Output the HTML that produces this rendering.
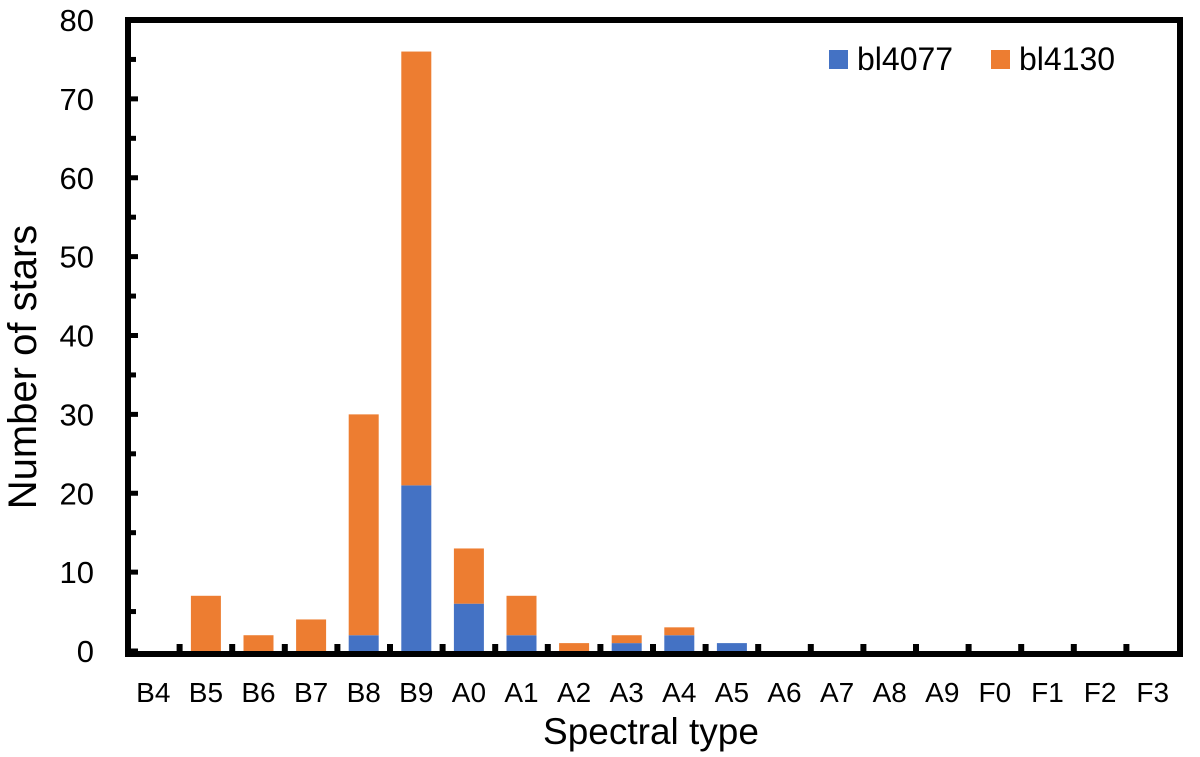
<!DOCTYPE html>
<html><head><meta charset="utf-8"><style>
body{margin:0;background:#fff;}
svg text{font-family:"Liberation Sans",sans-serif;fill:#000;}
</style></head><body>
<svg id="chart" width="1200" height="752">
<g id="bars"></g>
<g id="axes"></g>
<rect x="128" y="20" width="1052" height="634" fill="none" stroke="#000" stroke-width="6"/>
<text x="36" y="367" font-size="40" text-anchor="middle" transform="rotate(-90 36 367)">Number of stars</text>
<text x="651" y="744" font-size="37" text-anchor="middle">Spectral type</text>
<g>
<rect x="829" y="50" width="19" height="19" fill="#4472C4"/>
<text x="857" y="70" font-size="32">bl4077</text>
<rect x="991" y="50" width="19" height="19" fill="#ED7D31"/>
<text x="1019" y="70" font-size="32">bl4130</text>
</g>
</svg>
<script>
const categories=["B4","B5","B6","B7","B8","B9","A0","A1","A2","A3","A4","A5","A6","A7","A8","A9","F0","F1","F2","F3"];
const bl4077=[0,0,0,0,2,21,6,2,0,1,2,1,0,0,0,0,0,0,0,0];
const bl4130=[0,7,2,4,28,55,7,5,1,1,1,0,0,0,0,0,0,0,0,0];
const yTicks=[0,10,20,30,40,50,60,70,80];
const NS="http://www.w3.org/2000/svg";
const X0=127,STEP=52.6,Y0=651,Y80=20;
function xc(i){return X0+STEP*(i+0.5);}
function y(v){return Y0-(Y0-Y80)*v/80;}
function mk(t,a,p){const e=document.createElementNS(NS,t);for(const k in a)e.setAttribute(k,a[k]);p.appendChild(e);return e;}
const bars=document.getElementById('bars'),axes=document.getElementById('axes');
categories.forEach((c,i)=>{
  const b=bl4077[i],o=bl4130[i];
  if(b>0){const r=mk('rect',{x:xc(i)-15,y:y(b),width:30,height:y(0)-y(b),fill:'#4472C4'},bars);
    
    }
  if(o>0){const r=mk('rect',{x:xc(i)-15,y:y(b+o),width:30,height:y(b)-y(b+o),fill:'#ED7D31'},bars);
    
    }
  const t=mk('text',{x:xc(i),y:702,'font-size':'28','text-anchor':'middle'},axes);t.textContent=c;
  
  
  if(i>0){const tk=mk('line',{x1:X0+STEP*i,x2:X0+STEP*i,y1:654,y2:644,stroke:'#000','stroke-width':6},axes);
    
    }
});
yTicks.forEach((v,i)=>{
  const t=mk('text',{x:94,y:y(v)+11,'font-size':'31','text-anchor':'end'},axes);t.textContent=v;
  
  
  const tk=mk('line',{x1:128,x2:138,y1:y(v),y2:y(v),stroke:'#000','stroke-width':5},axes);
  
  
  if(i<yTicks.length-1){const m=mk('line',{x1:128,x2:136,y1:y(v+5),y2:y(v+5),stroke:'#000','stroke-width':5},axes);
    
    }
});
</script>
</body></html>
